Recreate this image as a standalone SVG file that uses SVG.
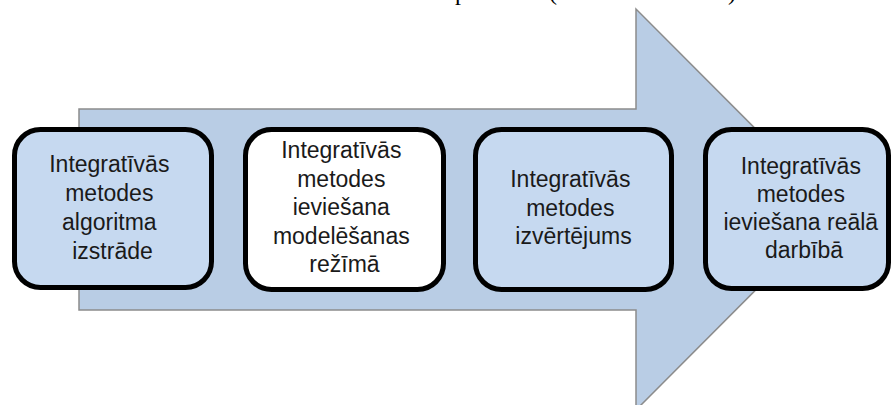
<svg xmlns="http://www.w3.org/2000/svg" width="891" height="405" viewBox="0 0 891 405">
  <style>
    .step { stroke: #000000; stroke-width: 5; }
    .blue { fill: #c6d9f0; }
    .white { fill: #ffffff; }
    .label { font-family: "Liberation Sans", Arial, sans-serif; font-size: 23px; fill: #1a1a1a; text-anchor: middle; }
    .caption { font-family: "Liberation Serif", "Times New Roman", serif; font-size: 24px; fill: #000000; }
  </style>
  <rect width="891" height="405" fill="#ffffff"/>

  <!-- caption line above the figure, clipped by the page edge -->
  <g id="caption">
    <text class="caption" x="455" y="0">p</text>
    <text class="caption" x="549" y="0">(</text>
    <text class="caption" x="728" y="0">)</text>
  </g>

  <!-- background process arrow -->
  <g id="connectors">
    <polygon points="79,109 636,109 636,9 836,209.5 636,410 636,310 79,310" fill="#b9cde5" stroke="#8c8c8c" stroke-width="1.5"/>
  </g>

  <g id="step1">
    <rect class="step blue" x="14.5" y="129.5" width="197" height="158" rx="26"/>
    <text class="label">
      <tspan x="112.5" y="172">Integratīvās</tspan>
      <tspan x="112.5" y="201">metodes</tspan>
      <tspan x="112.5" y="230">algoritma</tspan>
      <tspan x="112.5" y="259">izstrāde</tspan>
    </text>
  </g>

  <g id="step2">
    <rect class="step white" x="245.5" y="129.5" width="198" height="160" rx="26"/>
    <text class="label">
      <tspan x="344.5" y="158">Integratīvās</tspan>
      <tspan x="344.5" y="186.5">metodes</tspan>
      <tspan x="344.5" y="215">ieviešana</tspan>
      <tspan x="344.5" y="243.5">modelēšanas</tspan>
      <tspan x="344.5" y="272">režīmā</tspan>
    </text>
  </g>

  <g id="step3">
    <rect class="step blue" x="475.5" y="129.5" width="196" height="160" rx="26"/>
    <text class="label">
      <tspan x="573.5" y="187">Integratīvās</tspan>
      <tspan x="573.5" y="215.5">metodes</tspan>
      <tspan x="573.5" y="244">izvērtējums</tspan>
    </text>
  </g>

  <g id="step4">
    <rect class="step blue" x="705.5" y="129.5" width="183" height="159" rx="26"/>
    <text class="label">
      <tspan x="804" y="174">Integratīvās</tspan>
      <tspan x="804" y="202">metodes</tspan>
      <tspan x="804" y="230">ieviešana reālā</tspan>
      <tspan x="804" y="258">darbībā</tspan>
    </text>
  </g>
</svg>
